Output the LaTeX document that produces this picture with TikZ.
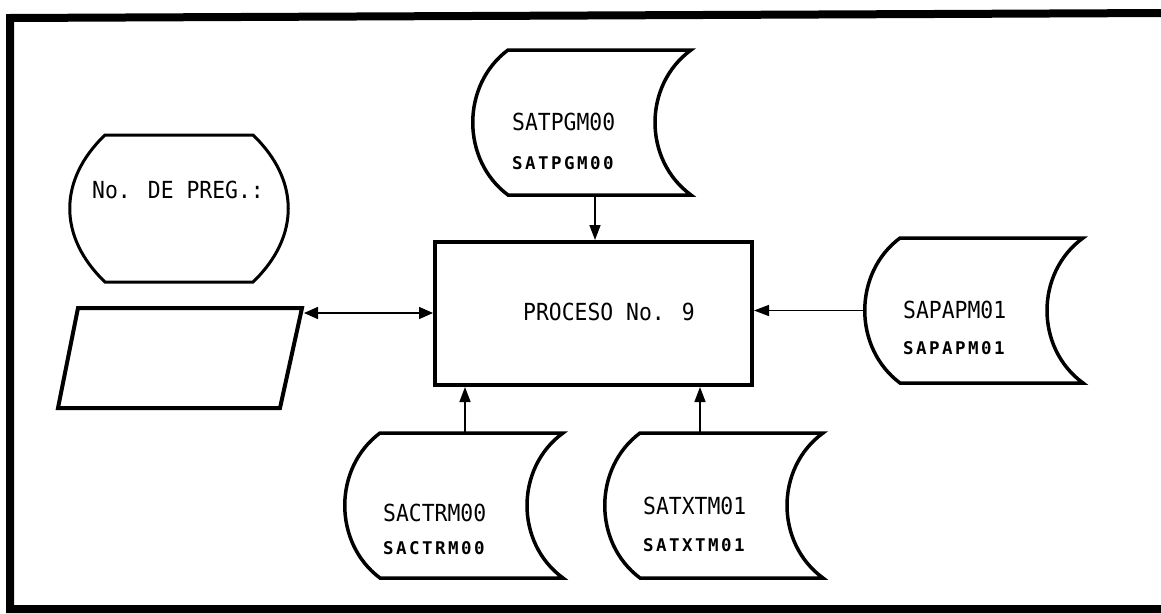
\documentclass[tikz,border=0pt]{standalone}
\usepackage{fontspec}
\newfontfamily\plotfont[FakeStretch=0.91]{DejaVu Sans Mono}
\newfontfamily\tagfont[LetterSpace=14]{DejaVu Sans Mono}
\usetikzlibrary{arrows.meta}
\tikzset{
  outline/.style={line width=3.5pt},
  flow/.style={line width=1.5pt,-{Triangle[length=15pt,width=11pt]}},
  txt/.style={inner sep=0pt,anchor=west,font=\plotfont\fontsize{23.5}{26}\selectfont},
  tag/.style={inner sep=0pt,anchor=west,font=\tagfont\bfseries\fontsize{17.5}{19}\selectfont},
  datastore/.pic={
    \draw[outline] (0,0) -- (183,0) .. controls (135,35) and (135,110) .. (183,145)
      -- (0,145) .. controls (-47,110) and (-47,35) .. (0,0) -- cycle;
    \coordinate (-w) at (-35,72.5);
  }
}
\begin{document}
\begin{tikzpicture}[x=1pt,y=-1pt]
  \useasboundingbox (0,0) rectangle (1161,613);
  % frame
  \draw[line width=8pt] (1165,13) -- (10,18) -- (10,609) -- (1165,609);
  % pregunta
  \draw[outline,line width=3pt] (105,135) -- (253,135) .. controls (300,180) and (300,237) .. (253,282)
    -- (105,282) .. controls (58,237) and (58,180) .. (105,135) -- cycle;
  \node[txt,anchor=center] (preg) at (178,190) {No. DE PREG.:};
  % pantalla
  \draw[outline,line width=4pt] (78,308) -- (302,308) -- (280,408) -- (58,408) -- cycle;
  \coordinate (parin) at (304,313);
  % proceso
  \node[draw,line width=4pt,minimum width=317pt,minimum height=143pt,inner sep=0pt] (proc) at (593.5,313.5) {};
  \node[txt,anchor=center] (proclab) at (609,312) {PROCESO No. 9};
  % archivos
  \pic (tpg) at (508,50) {datastore};
  \node[txt] (tpg1) at (512,122) {SATPGM00};
  \node[tag] (tpg2) at (512,163) {SATPGM00};
  \pic (apm) at (900,238) {datastore};
  \node[txt] (apm1) at (903,310) {SAPAPM01};
  \node[tag] (apm2) at (903,348) {SAPAPM01};
  \pic (ctr) at (380,433) {datastore};
  \node[txt] (ctr1) at (383,513) {SACTRM00};
  \node[tag] (ctr2) at (383,548) {SACTRM00};
  \pic (txm) at (640,433) {datastore};
  \node[txt] (txm1) at (643,506) {SATXTM01};
  \node[tag] (txm2) at (643,545) {SATXTM01};
  \coordinate (tpgout) at (595,195);
  \coordinate (ctrout) at (465,433);
  \coordinate (txmout) at (700,433);
  % flujos
  \draw[flow] (tpgout) -- (tpgout |- proc.north);
  \draw[flow] (apm-w) -- (apm-w -| proc.east);
  \draw[flow] (ctrout) -- (ctrout |- proc.south);
  \draw[flow] (txmout) -- (txmout |- proc.south);
  \draw[flow,{Triangle[length=14pt,width=12pt]}-{Triangle[length=14pt,width=12pt]}] (parin) -- (parin -| proc.west);
\end{tikzpicture}
\end{document}
